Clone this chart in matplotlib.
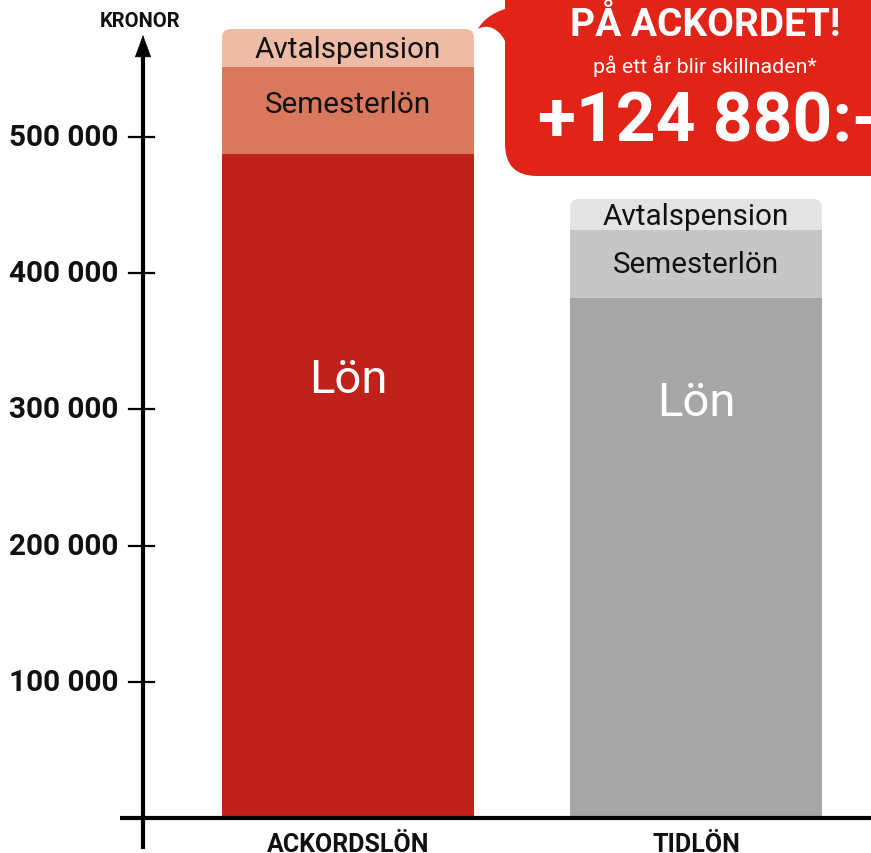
import matplotlib.pyplot as plt
from matplotlib.patches import FancyBboxPatch, PathPatch
from matplotlib.path import Path

# data (kronor per år)
kategorier = ['ACKORDSLÖN', 'TIDLÖN']
lon = [487700, 381900]
semesterlon = [64200, 50000]
avtalspension = [27700, 22800]
tick_varden = [100000, 200000, 300000, 400000, 500000]
skillnad = 124880

# colours
farger_ackord = ['#C0211A', '#D9785C', '#EDBBA6']
farger_tid = ['#A6A6A6', '#C6C6C6', '#E3E3E3']
rod = '#E12417'

plt.rcParams['font.family'] = ['Roboto', 'DejaVu Sans']

W, H = 871, 854
fig = plt.figure(figsize=(W / 100, H / 100), dpi=100)
ax = fig.add_axes([0, 0, 1, 1])

# y in kronor, x in pixels
px_per_kr = 136.08 / 100000
y0_px = 818.7
ax.set_xlim(0, W)
ax.set_ylim(-(H - y0_px) / px_per_kr, y0_px / px_per_kr)
ax.axis('off')

# pixel overlay for the callout
ov = fig.add_axes([0, 0, 1, 1])
ov.set_xlim(0, W)
ov.set_ylim(H, 0)
ov.axis('off')

x_pos = [348, 696]
bar_w = 252
kr_per_px = 1 / px_per_kr

for i in range(2):
    farg = farger_ackord if i == 0 else farger_tid
    xb = x_pos[i]
    ax.bar(xb, lon[i], width=bar_w, color=farg[0], zorder=3)
    ax.bar(xb, semesterlon[i], bottom=lon[i], width=bar_w, color=farg[1], zorder=3)
    # top segment with rounded top corners
    bas = lon[i] + semesterlon[i]
    topp = bas + avtalspension[i]
    extra = 20 * kr_per_px
    box = FancyBboxPatch((xb - bar_w / 2 + 9, bas - extra + 9 * kr_per_px),
                         bar_w - 18, topp - bas + extra - 18 * kr_per_px,
                         boxstyle='round,pad=9,rounding_size=9',
                         mutation_aspect=kr_per_px,
                         fc=farg[2], ec='none', zorder=2)
    ax.add_patch(box)

    ax.text(xb, bas + avtalspension[i] / 2 - 1.5 * kr_per_px, 'Avtalspension',
            ha='center', va='center', fontsize=21.3, color='#111111', zorder=5)
    ax.text(xb, lon[i] + semesterlon[i] * (0.57 if i == 0 else 0.5), 'Semesterlön',
            ha='center', va='center', fontsize=21.3, color='#111111', zorder=5)

ax.text(x_pos[0], 322400, 'Lön', ha='center', va='center', fontsize=34, color='white', zorder=5)
ax.text(x_pos[1], 305500, 'Lön', ha='center', va='center', fontsize=34, color='white', zorder=5)

for i, k in enumerate(kategorier):
    ax.text(x_pos[i], -(852 - y0_px) * kr_per_px, k, ha='center', va='baseline',
            fontsize=18, fontweight='bold', color='#111111')

# axes lines
ax.plot([120, W], [0, 0], color='black', lw=3, solid_capstyle='butt', zorder=6)
ax.plot([143, 143], [-(850 - y0_px) * kr_per_px, (y0_px - 58) * kr_per_px],
        color='black', lw=3, solid_capstyle='butt', zorder=6)
ax.annotate('', xy=(143, (y0_px - 36) * kr_per_px), xytext=(143, (y0_px - 62) * kr_per_px),
            arrowprops=dict(arrowstyle='-|>,head_length=1.5,head_width=0.55', color='black',
                            lw=0.5, shrinkA=0, shrinkB=0), zorder=6)
ax.text(140, (y0_px - 21) * kr_per_px, 'KRONOR', ha='center', va='center',
        fontsize=14.5, fontweight='bold', color='#111111')

for v in tick_varden:
    ax.plot([129, 154], [v, v], color='black', lw=1.6, zorder=6)
    ax.text(118, v, f'{v:,}'.replace(',', ' '), ha='right', va='center',
            fontsize=21.4, fontweight='bold', color='#111111')

# callout bubble (pixel coords)
r = 32
verts = [
    (505, 10),
    (492, 14), (482, 22), (478, 30),
    (486, 25), (498, 28), (505, 42),
    (505, 177 - r),
    (505, 177), (505 + r, 177),
    (W + 10, 177),
    (W + 10, -10),
    (505, -10),
    (505, 10),
]
codes = [Path.MOVETO,
         Path.CURVE4, Path.CURVE4, Path.CURVE4,
         Path.CURVE4, Path.CURVE4, Path.CURVE4,
         Path.LINETO,
         Path.CURVE3, Path.CURVE3,
         Path.LINETO, Path.LINETO, Path.LINETO,
         Path.CLOSEPOLY]
ov.add_patch(PathPatch(Path(verts, codes), fc=rod, ec='none'))

ov.text(705, 26, 'PÅ ACKORDET!', ha='center', va='center', fontsize=28,
        fontweight='bold', color='white')
ov.text(705, 66, 'på ett år blir skillnaden*', ha='center', va='center', fontsize=15.4,
        color='white')
ov.text(538, 123, f'+{skillnad:,}:-'.replace(',', ' '), ha='left', va='center', fontsize=50,
        fontweight='bold', color='white')

fig.savefig('out.png', dpi=100)
